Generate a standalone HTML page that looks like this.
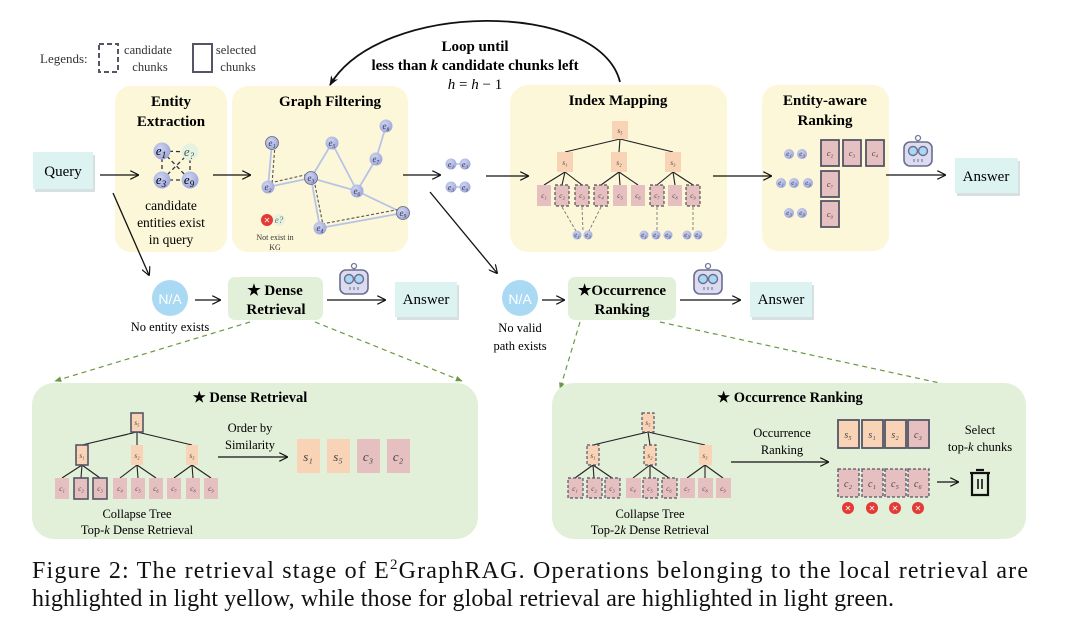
<!DOCTYPE html>
<html><head><meta charset="utf-8"><style>
html,body{margin:0;padding:0;background:#fff;}
svg{display:block;font-family:"Liberation Serif",serif;}
</style></head><body>
<svg width="1080" height="641" viewBox="0 0 1080 641" xmlns="http://www.w3.org/2000/svg">
<defs>
<marker id="ar" viewBox="0 0 10 10" refX="9" refY="5" markerWidth="9" markerHeight="9" orient="auto" markerUnits="userSpaceOnUse"><path d="M0,0 L10,5 L0,10" fill="none" stroke="#111" stroke-width="1.3"/></marker>
<marker id="arf" viewBox="0 0 10 10" refX="9" refY="5" markerWidth="10" markerHeight="10" orient="auto" markerUnits="userSpaceOnUse"><path d="M0,1 L10,5 L0,9 L3,5z" fill="#111"/></marker>
<marker id="arg" viewBox="0 0 10 10" refX="9" refY="5" markerWidth="7" markerHeight="7" orient="auto" markerUnits="userSpaceOnUse"><path d="M0,1 L10,5 L0,9z" fill="#6a9a40"/></marker>
<g id="robot">
<line x1="15" y1="0" x2="15" y2="6" stroke="#7a7a98" stroke-width="1.5"/><circle cx="15" cy="2" r="2.5" fill="#fff" stroke="#7a7a98" stroke-width="1.3"/>
<rect x="1" y="6" width="28" height="24" rx="6" fill="#dcdcf0" stroke="#6d6d90" stroke-width="1.6"/>
<circle cx="10" cy="15" r="4.5" fill="#a8d8f4" stroke="#6d6d90" stroke-width="1.4"/><circle cx="20" cy="15" r="4.5" fill="#a8d8f4" stroke="#6d6d90" stroke-width="1.4"/>
<line x1="11" y1="23" x2="11" y2="26" stroke="#6d6d90"/><line x1="15" y1="23" x2="15" y2="26" stroke="#6d6d90"/><line x1="19" y1="23" x2="19" y2="26" stroke="#6d6d90"/>
</g>
<radialGradient id="eg" cx="0.4" cy="0.35" r="0.7"><stop offset="0" stop-color="#cfd5f3"/><stop offset="1" stop-color="#9aa4d8"/></radialGradient>
</defs>

<text x="40" y="63" font-size="13" fill="#333">Legends:</text>
<rect x="99" y="44" width="19" height="28" fill="none" stroke="#556" stroke-width="2" stroke-dasharray="5,3"/>
<text x="148" y="54" font-size="12.5" text-anchor="middle" fill="#333">candidate</text>
<text x="150" y="71" font-size="12.5" text-anchor="middle" fill="#333">chunks</text>
<rect x="193" y="44" width="19" height="28" fill="none" stroke="#556" stroke-width="2"/>
<text x="236" y="54" font-size="12.5" text-anchor="middle" fill="#333">selected</text>
<text x="238" y="71" font-size="12.5" text-anchor="middle" fill="#333">chunks</text>

<path d="M620,82 C600,0 380,0 330,85" fill="none" stroke="#111" stroke-width="1.8" marker-end="url(#arf)"/>
<text x="475" y="51" font-size="15" font-weight="bold" text-anchor="middle">Loop until</text>
<text x="475" y="70" font-size="15" font-weight="bold" text-anchor="middle">less than <tspan font-style="italic">k</tspan> candidate chunks left</text>
<text x="475" y="89" font-size="15" text-anchor="middle" font-style="italic">h <tspan font-style="normal">=</tspan> h <tspan font-style="normal">− 1</tspan></text>

<rect x="115" y="86" width="112" height="166" rx="16" fill="#fcf7d8"/>
<rect x="232" y="86" width="176" height="166" rx="16" fill="#fcf7d8"/>
<rect x="510" y="85" width="217" height="167" rx="18" fill="#fcf7d8"/>
<rect x="762" y="85" width="127" height="166" rx="16" fill="#fcf7d8"/>
<text x="171" y="106" font-size="15" font-weight="bold" text-anchor="middle">Entity</text>
<text x="171" y="126" font-size="15" font-weight="bold" text-anchor="middle">Extraction</text>
<text x="330" y="106" font-size="15" font-weight="bold" text-anchor="middle">Graph Filtering</text>
<text x="618" y="105" font-size="15" font-weight="bold" text-anchor="middle">Index Mapping</text>
<text x="825" y="105" font-size="15" font-weight="bold" text-anchor="middle">Entity-aware</text>
<text x="825" y="125" font-size="15" font-weight="bold" text-anchor="middle">Ranking</text>

<rect x="35" y="155" width="60" height="37" fill="#bcc" opacity="0.6"/>
<rect x="33" y="152" width="60" height="37" fill="#dcf3f2"/>
<text x="63" y="176" font-size="15" text-anchor="middle">Query</text>
<line x1="100" y1="175" x2="138" y2="175" stroke="#111" stroke-width="1.3" marker-end="url(#ar)"/>
<line x1="213" y1="175" x2="250" y2="175" stroke="#111" stroke-width="1.3" marker-end="url(#ar)"/>
<line x1="403" y1="175" x2="440" y2="175" stroke="#111" stroke-width="1.3" marker-end="url(#ar)"/>
<line x1="486" y1="176" x2="528" y2="176" stroke="#111" stroke-width="1.3" marker-end="url(#ar)"/>
<line x1="713" y1="176" x2="771" y2="176" stroke="#111" stroke-width="1.3" marker-end="url(#ar)"/>
<line x1="886" y1="175" x2="945" y2="175" stroke="#111" stroke-width="1.3" marker-end="url(#ar)"/>
<line x1="113" y1="193" x2="149" y2="275" stroke="#111" stroke-width="1.3" marker-end="url(#ar)"/>
<line x1="430" y1="192" x2="497" y2="273" stroke="#111" stroke-width="1.3" marker-end="url(#ar)"/>

<g stroke="#333" stroke-width="1.3" stroke-dasharray="4,3">
<line x1="162" y1="151" x2="190" y2="152"/><line x1="162" y1="180" x2="190" y2="180"/>
<line x1="162" y1="151" x2="162" y2="180"/><line x1="190" y1="152" x2="190" y2="180"/>
<line x1="162" y1="151" x2="190" y2="180"/><line x1="190" y1="152" x2="162" y2="180"/>
</g>
<g font-size="13" font-style="italic" text-anchor="middle">
<circle cx="162" cy="151" r="8.5" fill="url(#eg)"/><text x="161" y="155">e<tspan font-size="9" dy="3">1</tspan></text>
<circle cx="190" cy="152" r="8.5" fill="#e4f2e0"/><text x="189" y="156" fill="#555">e<tspan font-size="9" dy="3">?</tspan></text>
<circle cx="162" cy="180" r="8.5" fill="url(#eg)"/><text x="161" y="184">e<tspan font-size="9" dy="3">3</tspan></text>
<circle cx="190" cy="180" r="8.5" fill="url(#eg)"/><text x="189" y="184">e<tspan font-size="9" dy="3">9</tspan></text>
</g>
<text x="171" y="210" font-size="13.5" text-anchor="middle">candidate</text>
<text x="171" y="227" font-size="13.5" text-anchor="middle">entities exist</text>
<text x="171" y="244" font-size="13.5" text-anchor="middle">in query</text>

<g stroke="#b8c4e6" stroke-width="1.8">
<line x1="272" y1="143" x2="268" y2="187"/><line x1="268" y1="187" x2="311" y2="178"/>
<line x1="311" y1="178" x2="332" y2="143"/><line x1="332" y1="143" x2="357" y2="191"/>
<line x1="311" y1="178" x2="357" y2="191"/><line x1="357" y1="191" x2="376" y2="159"/>
<line x1="376" y1="159" x2="386" y2="126"/><line x1="357" y1="191" x2="403" y2="213"/>
<line x1="311" y1="178" x2="320" y2="228"/><line x1="320" y1="228" x2="403" y2="213"/>
</g>
<g stroke="#555" stroke-width="1.1" stroke-dasharray="3,2" fill="none">
<line x1="275" y1="145" x2="272" y2="184"/><line x1="270" y1="183" x2="309" y2="174"/>
<line x1="314" y1="180" x2="323" y2="225"/><line x1="322" y1="224" x2="401" y2="209"/>
</g>
<g font-size="9" font-style="italic" text-anchor="middle" fill="#334">
<circle cx="272" cy="143" r="6.5" fill="url(#eg)" stroke="#667" stroke-width="0.8"/><text x="272" y="146">e₁</text>
<circle cx="268" cy="187" r="6.5" fill="url(#eg)"/><text x="268" y="190">e₂</text>
<circle cx="311" cy="178" r="6.5" fill="url(#eg)" stroke="#667" stroke-width="0.8"/><text x="311" y="181">e₃</text>
<circle cx="332" cy="143" r="6.5" fill="url(#eg)"/><text x="332" y="146">e₅</text>
<circle cx="386" cy="126" r="6.5" fill="url(#eg)"/><text x="386" y="129">e₈</text>
<circle cx="376" cy="159" r="6.5" fill="url(#eg)"/><text x="376" y="162">e₇</text>
<circle cx="357" cy="191" r="6.5" fill="url(#eg)"/><text x="357" y="194">e₆</text>
<circle cx="403" cy="213" r="6.5" fill="url(#eg)" stroke="#667" stroke-width="0.8"/><text x="403" y="216">e₉</text>
<circle cx="320" cy="228" r="6.5" fill="url(#eg)"/><text x="320" y="231">e₄</text>
<circle cx="279" cy="220" r="6" fill="#e4f2e0"/><text x="279" y="223" fill="#777">e?</text>
</g>
<circle cx="267" cy="220" r="6" fill="#e53935"/><text x="267" y="223" font-size="8" fill="#fff" text-anchor="middle">✕</text>
<text x="275" y="240" font-size="8" text-anchor="middle" fill="#333">Not exist in</text>
<text x="275" y="250" font-size="8" text-anchor="middle" fill="#333">KG</text>

<g stroke="#b8c4e6" stroke-width="1.5"><line x1="451" y1="164" x2="465" y2="164"/><line x1="451" y1="187" x2="465" y2="187"/></g>
<g font-size="8" font-style="italic" text-anchor="middle" fill="#334">
<circle cx="451" cy="164" r="5.5" fill="url(#eg)"/><text x="451" y="167">e₁</text>
<circle cx="465" cy="164" r="5.5" fill="url(#eg)"/><text x="465" y="167">e₃</text>
<circle cx="451" cy="187" r="5.5" fill="url(#eg)"/><text x="451" y="190">e₃</text>
<circle cx="465" cy="187" r="5.5" fill="url(#eg)"/><text x="465" y="190">e₉</text>
</g>

<g stroke="#222" stroke-width="1.1">
<line x1="620" y1="139" x2="565" y2="152"/><line x1="620" y1="139" x2="619" y2="152"/><line x1="620" y1="139" x2="673" y2="152"/>
<line x1="565" y1="172" x2="544" y2="185"/><line x1="565" y1="172" x2="562" y2="185"/><line x1="565" y1="172" x2="582" y2="185"/>
<line x1="619" y1="172" x2="601" y2="185"/><line x1="619" y1="172" x2="620" y2="185"/><line x1="619" y1="172" x2="638" y2="185"/>
<line x1="673" y1="172" x2="657" y2="185"/><line x1="673" y1="172" x2="675" y2="185"/><line x1="673" y1="172" x2="693" y2="185"/>
</g>
<g fill="#f9d3b5">
<rect x="612" y="121" width="16" height="18"/><rect x="557" y="152" width="16" height="20"/><rect x="611" y="152" width="16" height="20"/><rect x="665" y="152" width="16" height="20"/>
</g>
<g fill="#e6bfc0">
<rect x="537" y="185" width="14" height="21"/><rect x="613" y="185" width="14" height="21"/><rect x="631" y="185" width="14" height="21"/><rect x="668" y="185" width="14" height="21"/>
</g>
<g fill="#e6bfc0" stroke="#555" stroke-width="1.2" stroke-dasharray="3,2">
<rect x="555" y="185" width="14" height="21"/><rect x="575" y="185" width="14" height="21"/><rect x="594" y="185" width="14" height="21"/><rect x="650" y="185" width="14" height="21"/><rect x="686" y="185" width="14" height="21"/>
</g>
<g font-size="7" font-style="italic" text-anchor="middle" fill="#444">
<text x="620" y="133">s₅</text><text x="565" y="165">s₁</text><text x="619" y="165">s₂</text><text x="673" y="165">s₃</text>
<text x="544" y="198">c₁</text><text x="562" y="198">c₂</text><text x="582" y="198">c₃</text><text x="601" y="198">c₄</text><text x="620" y="198">c₅</text><text x="638" y="198">c₆</text><text x="657" y="198">c₇</text><text x="675" y="198">c₈</text><text x="693" y="198">c₉</text>
</g>
<g stroke="#777" stroke-width="0.9" stroke-dasharray="3,2">
<line x1="562" y1="207" x2="576" y2="231"/><line x1="582" y1="207" x2="583" y2="231"/><line x1="601" y1="207" x2="589" y2="231"/>
<line x1="657" y1="207" x2="657" y2="231"/><line x1="693" y1="207" x2="693" y2="231"/>
</g>
<g font-size="7" font-style="italic" text-anchor="middle" fill="#334">
<circle cx="577" cy="235" r="4.5" fill="url(#eg)"/><text x="577" y="237">e₁</text>
<circle cx="588" cy="235" r="4.5" fill="url(#eg)"/><text x="588" y="237">e₃</text>
<circle cx="644" cy="235" r="4.5" fill="url(#eg)"/><text x="644" y="237">e₁</text>
<circle cx="656" cy="235" r="4.5" fill="url(#eg)"/><text x="656" y="237">e₃</text>
<circle cx="668" cy="235" r="4.5" fill="url(#eg)"/><text x="668" y="237">e₉</text>
<circle cx="687" cy="235" r="4.5" fill="url(#eg)"/><text x="687" y="237">e₃</text>
<circle cx="698" cy="235" r="4.5" fill="url(#eg)"/><text x="698" y="237">e₉</text>
</g>

<g fill="#e6bfc0" stroke="#556" stroke-width="1.8">
<rect x="821" y="140" width="18" height="26"/><rect x="843" y="140" width="18" height="26"/><rect x="866" y="140" width="18" height="26"/>
<rect x="821" y="171" width="18" height="26"/><rect x="821" y="201" width="18" height="26"/>
</g>
<g font-size="8" font-style="italic" text-anchor="middle" fill="#444">
<text x="830" y="156">c₂</text><text x="852" y="156">c₃</text><text x="875" y="156">c₄</text><text x="830" y="187">c₇</text><text x="830" y="217">c₉</text>
</g>
<g font-size="7" font-style="italic" text-anchor="middle" fill="#334">
<circle cx="789" cy="154" r="5" fill="url(#eg)"/><text x="789" y="156">e₁</text>
<circle cx="802" cy="154" r="5" fill="url(#eg)"/><text x="802" y="156">e₃</text>
<circle cx="781" cy="183" r="5" fill="url(#eg)"/><text x="781" y="185">e₁</text>
<circle cx="794" cy="183" r="5" fill="url(#eg)"/><text x="794" y="185">e₃</text>
<circle cx="808" cy="183" r="5" fill="url(#eg)"/><text x="808" y="185">e₉</text>
<circle cx="789" cy="213" r="5" fill="url(#eg)"/><text x="789" y="215">e₃</text>
<circle cx="802" cy="213" r="5" fill="url(#eg)"/><text x="802" y="215">e₉</text>
</g>
<use href="#robot" x="903" y="136"/>
<rect x="957" y="161" width="63" height="35" fill="#bcc" opacity="0.6"/>
<rect x="955" y="158" width="63" height="35" fill="#dcf3f2"/>
<text x="986" y="181" font-size="15" text-anchor="middle">Answer</text>

<circle cx="170" cy="298" r="18" fill="#a9d9f3"/><text x="170" y="304" font-size="14" fill="#fff" text-anchor="middle" font-family="Liberation Sans,sans-serif">N/A</text>
<text x="170" y="331" font-size="12.5" text-anchor="middle">No entity exists</text>
<line x1="195" y1="300" x2="220" y2="300" stroke="#111" stroke-width="1.3" marker-end="url(#ar)"/>
<rect x="228" y="277" width="95" height="43" rx="7" fill="#e2f0d9"/>
<text x="275" y="295" font-size="15" font-weight="bold" text-anchor="middle">★ Dense</text>
<text x="276" y="314" font-size="15" font-weight="bold" text-anchor="middle">Retrieval</text>
<use href="#robot" x="339" y="264"/>
<line x1="327" y1="300" x2="385" y2="300" stroke="#111" stroke-width="1.3" marker-end="url(#ar)"/>
<rect x="397" y="285" width="62" height="35" fill="#bcc" opacity="0.6"/>
<rect x="395" y="282" width="62" height="35" fill="#dcf3f2"/>
<text x="426" y="304" font-size="15" text-anchor="middle">Answer</text>

<circle cx="520" cy="298" r="18" fill="#a9d9f3"/><text x="520" y="304" font-size="14" fill="#fff" text-anchor="middle" font-family="Liberation Sans,sans-serif">N/A</text>
<text x="520" y="332" font-size="12.5" text-anchor="middle">No valid</text>
<text x="520" y="350" font-size="12.5" text-anchor="middle">path exists</text>
<line x1="542" y1="300" x2="564" y2="300" stroke="#111" stroke-width="1.3" marker-end="url(#ar)"/>
<rect x="568" y="277" width="108" height="43" rx="7" fill="#e2f0d9"/>
<text x="622" y="295" font-size="15" font-weight="bold" text-anchor="middle">★Occurrence</text>
<text x="622" y="314" font-size="15" font-weight="bold" text-anchor="middle">Ranking</text>
<use href="#robot" x="693" y="264"/>
<line x1="680" y1="300" x2="740" y2="300" stroke="#111" stroke-width="1.3" marker-end="url(#ar)"/>
<rect x="752" y="285" width="62" height="35" fill="#bcc" opacity="0.6"/>
<rect x="750" y="282" width="62" height="35" fill="#dcf3f2"/>
<text x="781" y="304" font-size="15" text-anchor="middle">Answer</text>

<g stroke="#6a9a40" stroke-width="1.2" stroke-dasharray="5,4" fill="none">
<line x1="250" y1="322" x2="55" y2="381" marker-end="url(#arg)"/>
<line x1="315" y1="322" x2="462" y2="381" marker-end="url(#arg)"/>
<line x1="580" y1="322" x2="560" y2="389" marker-end="url(#arg)"/>
<line x1="660" y1="322" x2="958" y2="387" marker-end="url(#arg)"/>
</g>

<rect x="32" y="383" width="446" height="156" rx="22" fill="#e2efd9"/>
<rect x="552" y="383" width="474" height="156" rx="22" fill="#e2efd9"/>
<text x="250" y="402" font-size="14.5" font-weight="bold" text-anchor="middle">★ Dense Retrieval</text>
<text x="790" y="402" font-size="14.5" font-weight="bold" text-anchor="middle">★ Occurrence Ranking</text>

<g stroke="#222" stroke-width="1.1">
<line x1="137" y1="432" x2="82" y2="445"/><line x1="137" y1="432" x2="137" y2="445"/><line x1="137" y1="432" x2="192" y2="445"/>
<line x1="82" y1="465" x2="62" y2="478"/><line x1="82" y1="465" x2="81" y2="478"/><line x1="82" y1="465" x2="100" y2="478"/>
<line x1="137" y1="465" x2="120" y2="478"/><line x1="137" y1="465" x2="138" y2="478"/><line x1="137" y1="465" x2="156" y2="478"/>
<line x1="192" y1="465" x2="174" y2="478"/><line x1="192" y1="465" x2="193" y2="478"/><line x1="192" y1="465" x2="211" y2="478"/>
</g>
<g fill="#f9d3b5"><rect x="131" y="445" width="12" height="20"/><rect x="186" y="445" width="12" height="20"/></g>
<g fill="#f9d3b5" stroke="#556" stroke-width="1.6"><rect x="131" y="413" width="12" height="19"/><rect x="76" y="445" width="12" height="20"/></g>
<g fill="#e6bfc0"><rect x="55" y="478" width="14" height="21"/><rect x="113" y="478" width="14" height="21"/><rect x="131" y="478" width="14" height="21"/><rect x="149" y="478" width="14" height="21"/><rect x="167" y="478" width="14" height="21"/><rect x="186" y="478" width="14" height="21"/><rect x="204" y="478" width="14" height="21"/></g>
<g fill="#e6bfc0" stroke="#556" stroke-width="1.6"><rect x="74" y="478" width="14" height="21"/><rect x="93" y="478" width="14" height="21"/></g>
<g font-size="7" font-style="italic" text-anchor="middle" fill="#444">
<text x="137" y="425">s₅</text><text x="82" y="458">s₁</text><text x="137" y="458">s₂</text><text x="192" y="458">s₃</text>
<text x="62" y="491">c₁</text><text x="81" y="491">c₂</text><text x="100" y="491">c₃</text><text x="120" y="491">c₄</text><text x="138" y="491">c₅</text><text x="156" y="491">c₆</text><text x="174" y="491">c₇</text><text x="193" y="491">c₈</text><text x="211" y="491">c₉</text>
</g>
<text x="137" y="518" font-size="12.5" text-anchor="middle">Collapse Tree</text>
<text x="137" y="534" font-size="12.5" text-anchor="middle">Top-<tspan font-style="italic">k</tspan> Dense Retrieval</text>
<text x="250" y="432" font-size="12.5" text-anchor="middle">Order by</text>
<text x="250" y="449" font-size="12.5" text-anchor="middle">Similarity</text>
<line x1="218" y1="457" x2="287" y2="457" stroke="#111" stroke-width="1.3" marker-end="url(#ar)"/>
<g fill="#f9d3b5"><rect x="297" y="439" width="23" height="34"/><rect x="327" y="439" width="23" height="34"/></g>
<g fill="#e6bfc0"><rect x="357" y="439" width="23" height="34"/><rect x="387" y="439" width="23" height="34"/></g>
<g font-size="13" font-style="italic" text-anchor="middle" fill="#444">
<text x="308" y="461">s₁</text><text x="338" y="461">s₅</text><text x="368" y="461">c₃</text><text x="398" y="461">c₂</text>
</g>

<g stroke="#222" stroke-width="1.1">
<line x1="648" y1="432" x2="593" y2="445"/><line x1="648" y1="432" x2="650" y2="445"/><line x1="648" y1="432" x2="705" y2="445"/>
<line x1="593" y1="465" x2="575" y2="478"/><line x1="593" y1="465" x2="594" y2="478"/><line x1="593" y1="465" x2="612" y2="478"/>
<line x1="650" y1="465" x2="633" y2="478"/><line x1="650" y1="465" x2="650" y2="478"/><line x1="650" y1="465" x2="669" y2="478"/>
<line x1="705" y1="465" x2="687" y2="478"/><line x1="705" y1="465" x2="705" y2="478"/><line x1="705" y1="465" x2="723" y2="478"/>
</g>
<rect x="699" y="445" width="13" height="20" fill="#f9d3b5"/>
<g fill="#f9d3b5" stroke="#556" stroke-width="1.2" stroke-dasharray="3,2"><rect x="642" y="413" width="12" height="19"/><rect x="587" y="445" width="12" height="20"/><rect x="644" y="445" width="12" height="20"/></g>
<g fill="#e6bfc0"><rect x="626" y="478" width="15" height="20"/><rect x="680" y="478" width="15" height="20"/><rect x="698" y="478" width="15" height="20"/><rect x="716" y="478" width="15" height="20"/></g>
<g fill="#e6bfc0" stroke="#556" stroke-width="1.2" stroke-dasharray="3,2"><rect x="568" y="478" width="15" height="20"/><rect x="587" y="478" width="15" height="20"/><rect x="605" y="478" width="15" height="20"/><rect x="643" y="478" width="15" height="20"/><rect x="662" y="478" width="15" height="20"/></g>
<g font-size="7" font-style="italic" text-anchor="middle" fill="#444">
<text x="648" y="425">s₅</text><text x="593" y="458">s₁</text><text x="650" y="458">s₂</text><text x="705" y="458">s₃</text>
<text x="575" y="491">c₁</text><text x="594" y="491">c₂</text><text x="612" y="491">c₃</text><text x="633" y="491">c₄</text><text x="650" y="491">c₅</text><text x="669" y="491">c₆</text><text x="687" y="491">c₇</text><text x="705" y="491">c₈</text><text x="723" y="491">c₉</text>
</g>
<text x="650" y="518" font-size="12.5" text-anchor="middle">Collapse Tree</text>
<text x="650" y="534" font-size="12.5" text-anchor="middle">Top-2<tspan font-style="italic">k</tspan> Dense Retrieval</text>
<text x="782" y="437" font-size="12.5" text-anchor="middle">Occurrence</text>
<text x="782" y="454" font-size="12.5" text-anchor="middle">Ranking</text>
<line x1="731" y1="462" x2="828" y2="462" stroke="#111" stroke-width="1.3" marker-end="url(#ar)"/>
<g stroke="#556" stroke-width="1.8"><rect x="838" y="420" width="21" height="28" fill="#f9d3b5"/><rect x="862" y="420" width="21" height="28" fill="#f9d3b5"/><rect x="885" y="420" width="21" height="28" fill="#f9d3b5"/><rect x="908" y="420" width="21" height="28" fill="#e6bfc0"/></g>
<g stroke="#556" stroke-width="1.3" stroke-dasharray="3,2" fill="#e6bfc0"><rect x="838" y="469" width="21" height="28"/><rect x="862" y="469" width="21" height="28"/><rect x="885" y="469" width="21" height="28"/><rect x="908" y="469" width="21" height="28"/></g>
<g font-size="10" font-style="italic" text-anchor="middle" fill="#444">
<text x="848" y="438">s₅</text><text x="872" y="438">s₁</text><text x="895" y="438">s₂</text><text x="918" y="438">c₃</text>
<text x="848" y="487">c₂</text><text x="872" y="487">c₁</text><text x="895" y="487">c₅</text><text x="918" y="487">c₆</text>
</g>
<g fill="#e53935"><circle cx="848" cy="508" r="6"/><circle cx="872" cy="508" r="6"/><circle cx="895" cy="508" r="6"/><circle cx="918" cy="508" r="6"/></g>
<g font-size="8" fill="#fff" text-anchor="middle"><text x="848" y="511">✕</text><text x="872" y="511">✕</text><text x="895" y="511">✕</text><text x="918" y="511">✕</text></g>
<text x="980" y="434" font-size="12.5" text-anchor="middle">Select</text>
<text x="980" y="451" font-size="12.5" text-anchor="middle">top-<tspan font-style="italic">k</tspan> chunks</text>
<line x1="937" y1="482" x2="958" y2="482" stroke="#111" stroke-width="1.3" marker-end="url(#ar)"/>
<g stroke="#111" stroke-width="2.2" fill="none">
<line x1="970" y1="473" x2="990" y2="473"/><line x1="976" y1="470" x2="984" y2="470"/>
<path d="M972,473 L972,495 L988,495 L988,473"/><line x1="978" y1="479" x2="978" y2="489" stroke-width="1.6"/><line x1="982" y1="479" x2="982" y2="489" stroke-width="1.6"/>
</g>

<text x="32" y="578" font-size="24" textLength="996" lengthAdjust="spacing" fill="#111">Figure 2: The retrieval stage of E<tspan font-size="15" dy="-9">2</tspan><tspan dy="9">GraphRAG. Operations belonging to the local retrieval are</tspan></text>
<text x="32" y="606" font-size="24" fill="#111" textLength="862" lengthAdjust="spacing">highlighted in light yellow, while those for global retrieval are highlighted in light green.</text>
</svg>
</body></html>
